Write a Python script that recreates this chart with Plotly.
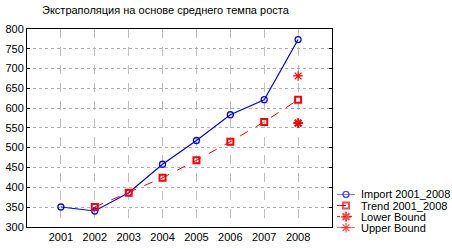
import plotly.graph_objects as go

years = [2001, 2002, 2003, 2004, 2005, 2006, 2007, 2008]
import_vals = [350, 340, 386, 458, 518, 583, 621, 773]
trend_years = [2002, 2003, 2004, 2005, 2006, 2007, 2008]
trend_vals = [350, 386, 424, 468, 515, 565, 621]
lower_years = [2008]
lower_vals = [562]
upper_years = [2008]
upper_vals = [681]
y_ticks = [300, 350, 400, 450, 500, 550, 600, 650, 700, 750, 800]
series_names = ["Import 2001_2008", "Trend 2001_2008", "Lower Bound", "Upper Bound"]

W, H = 452, 249
BLUE, RED = "#0000ff", "#ff0000"

styles = [
    dict(line=dict(color=BLUE, width=1.2),
         marker=dict(symbol="circle-open", size=6, color=BLUE, line=dict(width=1.3, color=BLUE))),
    dict(line=dict(color=RED, width=1, dash="dash"),
         marker=dict(symbol="square-open", size=6, color=RED, line=dict(width=2, color=RED))),
    dict(line=dict(color=RED, width=1, dash="dot"),
         marker=dict(symbol="asterisk-open", size=8, color=RED, line=dict(width=2, color=RED))),
    dict(line=dict(color=RED, width=1),
         marker=dict(symbol="asterisk-open", size=8, color=RED, line=dict(width=1.2, color=RED))),
]
data_x = [years, trend_years, lower_years, upper_years]
data_y = [import_vals, trend_vals, lower_vals, upper_vals]

fig = go.Figure()
for i in range(4):
    fig.add_trace(go.Scatter(x=data_x[i], y=data_y[i], name=series_names[i],
                             mode="lines+markers", showlegend=False,
                             line=styles[i]["line"], marker=styles[i]["marker"],
                             xaxis="x", yaxis="y"))

# compact legend drawn on an auxiliary axis
for i in range(4):
    mk = dict(styles[i]["marker"])
    mk["size"] = [0, mk["size"], 0]
    fig.add_trace(go.Scatter(x=[0, 0.5, 1], y=[i, i, i], mode="lines+markers",
                             showlegend=False, hoverinfo="skip",
                             line=styles[i]["line"], marker=mk,
                             xaxis="x2", yaxis="y2", cliponaxis=False))
    fig.add_annotation(x=359 / W, y=i, xref="paper", yref="y2", text=series_names[i],
                       showarrow=False, xanchor="left", yanchor="middle",
                       font=dict(size=11, color="black"))

fig.update_layout(
    width=W, height=H,
    margin=dict(l=0, r=0, t=0, b=0),
    paper_bgcolor="white", plot_bgcolor="white",
    font=dict(family="Liberation Sans, Arial, sans-serif", size=11, color="black"),
    title=dict(text="Экстраполяция на основе среднего темпа роста", x=42 / W, xanchor="left",
               y=1 - 10 / H, yanchor="middle", font=dict(size=11)),
    showlegend=False,
    xaxis=dict(domain=[27 / W, 332 / W], range=[2000, 2009], tickvals=years,
               ticktext=[str(y) for y in years],
               showgrid=True, gridcolor="#c0c0c0", griddash="dash", gridwidth=1,
               showline=True, linecolor="black", linewidth=1, mirror=True,
               ticks="", zeroline=False, anchor="y"),
    yaxis=dict(domain=[1 - 232 / H, 1 - 24 / H], range=[300, 800], tickvals=y_ticks,
               showgrid=True, gridcolor="#b0b0b0", griddash="dot", gridwidth=1,
               showline=True, linecolor="black", linewidth=1, mirror="ticks",
               ticks="inside", ticklen=3, tickcolor="black", zeroline=False, anchor="x"),
    xaxis2=dict(domain=[337 / W, 355 / W], range=[0, 1], visible=False, anchor="y2"),
    yaxis2=dict(domain=[1 - 233 / H, 1 - 198 / H], range=[3, 0], visible=False, anchor="x2"),
)

fig.write_html("out.html")
